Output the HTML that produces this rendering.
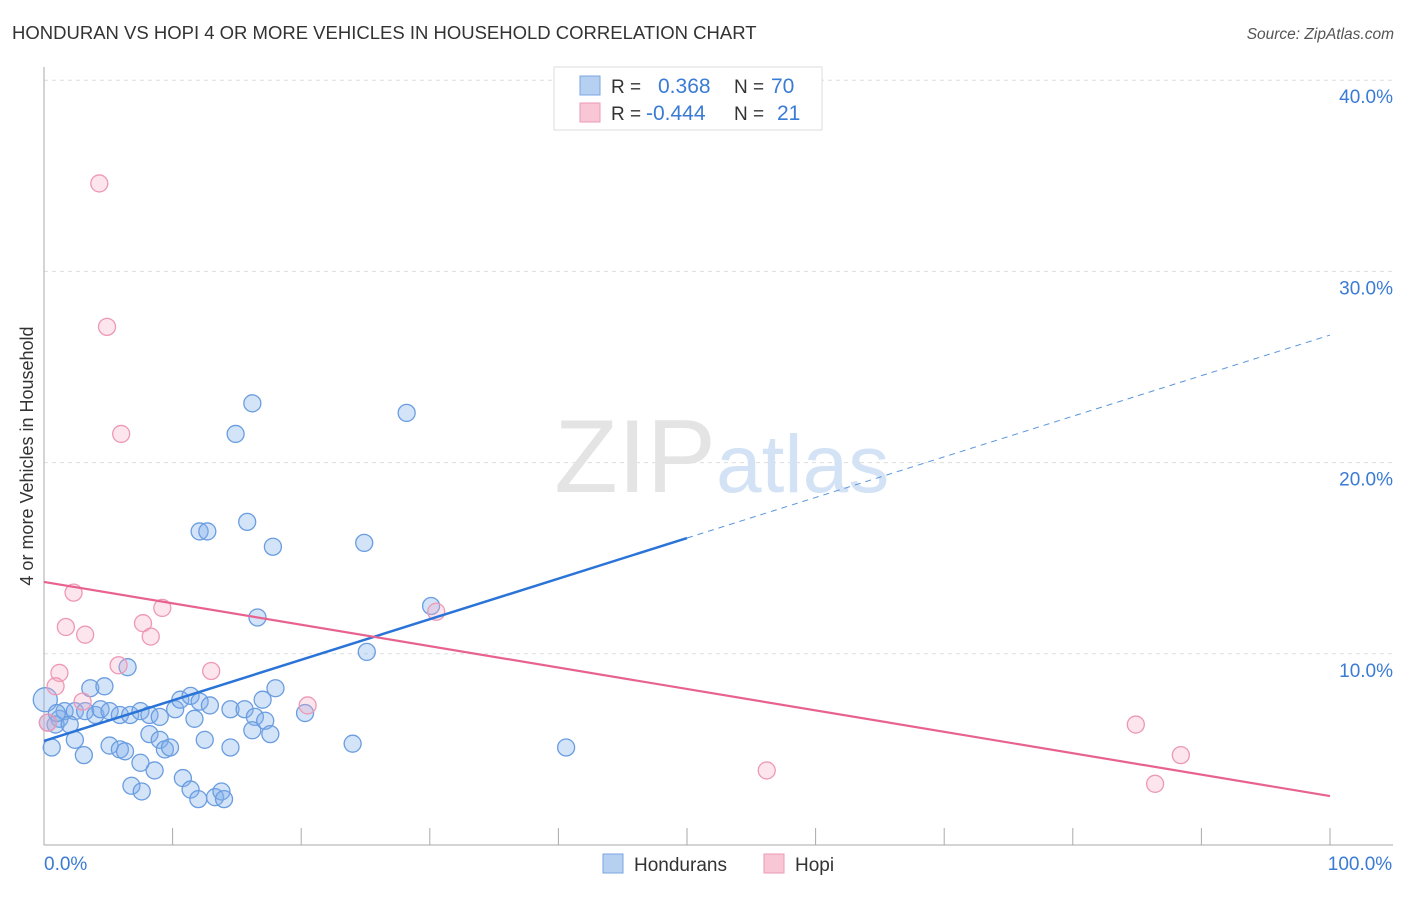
<!DOCTYPE html>
<html><head><meta charset="utf-8"><style>
body{margin:0;background:#fff;font-family:"Liberation Sans",sans-serif}
svg text{font-family:"Liberation Sans",sans-serif}
</style></head><body>
<svg id="c" width="1406" height="892">
<text x="12" y="39" font-size="18.5" fill="#333">HONDURAN VS HOPI 4 OR MORE VEHICLES IN HOUSEHOLD CORRELATION CHART</text>
<text x="1394" y="39" font-size="15.5" fill="#555" text-anchor="end" font-style="italic">Source: ZipAtlas.com</text>
<text x="33" y="456" font-size="18" fill="#333" text-anchor="middle" transform="rotate(-90 33 456)">4 or more Vehicles in Household</text>
<g id="grid"></g>
<text x="716" y="492" font-size="104" fill="#e4e4e4" text-anchor="end" font-family="Liberation Serif">ZIP</text>
<text x="716" y="492" font-size="82" fill="#d3e3f5">atlas</text>
<g id="marks"></g>
<g>
<rect x="554" y="67" width="268" height="63" fill="#fff" stroke="#ddd"/>
<rect x="580" y="76" width="20" height="19" fill="#b6d0f2" stroke="#7aa6e0"/>
<rect x="580" y="103" width="20" height="19" fill="#f8c6d5" stroke="#ec9ab4"/>
<text x="611" y="93" font-size="19" fill="#333">R = </text><text x="658" y="93" font-size="21" fill="#3a7bd5">0.368</text>
<text x="734" y="93" font-size="19" fill="#333">N = </text><text x="771" y="93" font-size="21" fill="#3a7bd5">70</text>
<text x="611" y="120" font-size="19" fill="#333">R = </text><text x="646" y="120" font-size="21" fill="#3a7bd5">-0.444</text>
<text x="734" y="120" font-size="19" fill="#333">N = </text><text x="777" y="120" font-size="21" fill="#3a7bd5">21</text>
</g>
<g>
<rect x="603" y="854" width="20" height="19" fill="#b6d0f2" stroke="#7aa6e0"/>
<text x="634" y="871" font-size="19" fill="#333">Hondurans</text>
<rect x="764" y="854" width="20" height="19" fill="#f8c6d5" stroke="#ec9ab4"/>
<text x="795" y="871" font-size="19" fill="#333">Hopi</text>
</g>
</svg>
<script>
const yTicks=[10,20,30,40];
const yTickLabels=["10.0%","20.0%","30.0%","40.0%"];
const xTickLabels=["0.0%","100.0%"];
const hondX=[0.1,0.6,1.2,0.9,0.3,1.6,2.4,3.2,4.0,4.4,5.1,5.9,6.7,7.5,8.2,9.0,10.2,10.6,11.4,12.1,12.9,14.5,15.6,16.4,17.0,18.0,20.3,3.6,4.7,6.5,3.1,5.1,5.9,6.3,8.2,9.0,9.4,9.8,12.5,14.5,16.2,17.2,17.6,7.5,8.6,6.8,7.6,10.8,11.4,12.0,13.3,13.8,14.0,16.2,28.2,14.9,12.1,12.7,15.8,17.8,24.9,16.6,30.1,25.1,24.0,40.6,2.4,11.7,1.0,2.0];
const hondY=[7.6,5.1,6.6,6.3,6.4,7.0,7.0,7.0,6.8,7.1,7.0,6.8,6.8,7.0,6.8,6.7,7.1,7.6,7.8,7.5,7.3,7.1,7.1,6.7,7.6,8.2,6.9,8.2,8.3,9.3,4.7,5.2,5.0,4.9,5.8,5.5,5.0,5.1,5.5,5.1,6.0,6.5,5.8,4.3,3.9,3.1,2.8,3.5,2.9,2.4,2.5,2.8,2.4,23.1,22.6,21.5,16.4,16.4,16.9,15.6,15.8,11.9,12.5,10.1,5.3,5.1,5.5,6.6,6.9,6.3];
const hopiX=[4.3,4.9,6.0,2.3,9.2,1.7,3.2,7.7,8.3,1.2,5.8,13.0,0.9,3.0,20.5,30.5,56.2,84.9,88.4,86.4,0.3];
const hopiY=[34.6,27.1,21.5,13.2,12.4,11.4,11.0,11.6,10.9,9.0,9.4,9.1,8.3,7.5,7.3,12.2,3.9,6.3,4.7,3.2,6.4];
const hondTrend=[5.44,26.67];
const hopiTrend=[13.76,2.56];
const X0=44,X1=1330,Y0=845,PY=19.12;
const sx=v=>X0+(X1-X0)*v/100, sy=v=>Y0-PY*v;
const NS="http://www.w3.org/2000/svg";
function mk(t,a,p){const e=document.createElementNS(NS,t);for(const k in a)e.setAttribute(k,a[k]);p.appendChild(e);return e;}
const g=document.getElementById('grid'), m=document.getElementById('marks');
yTicks.forEach((t,i)=>{
 const l=mk('line',{x1:44,x2:1393,y1:sy(t),y2:sy(t),stroke:'#ddd','stroke-dasharray':'4,4'},g);
 
 
 const tx=mk('text',{x:1393,y:sy(t)+23,'font-size':19,fill:'#3a7bd5','text-anchor':'end'},g);tx.textContent=yTickLabels[i];
 
 
});
const ax=mk('line',{x1:44,x2:44,y1:67,y2:845,stroke:'#aaa'},g);


const bx=mk('line',{x1:44,x2:1393,y1:845,y2:845,stroke:'#aaa'},g);


for(let i=0;i<=10;i++){const t=mk('line',{x1:sx(i*10),x2:sx(i*10),y1:828,y2:845,stroke:'#aaa'},g);
 
 }
[[0,'start',44],[100,'middle',1360]].forEach((d,i)=>{const t=mk('text',{x:d[2],y:870,'font-size':19,fill:'#3a7bd5','text-anchor':d[1]},g);t.textContent=xTickLabels[i];
 
 });
hondX.forEach((x,i)=>{const c=mk('circle',{cx:sx(x),cy:sy(hondY[i]),r:i==0?12:8.5,fill:'rgba(130,175,235,0.35)',stroke:'#6a9de0','stroke-width':1.3},m);
 
 });
hopiX.forEach((x,i)=>{const c=mk('circle',{cx:sx(x),cy:sy(hopiY[i]),r:8.5,fill:'rgba(245,170,195,0.3)',stroke:'#ee98b4','stroke-width':1.3},m);
 
 });
const ty=x=>hondTrend[0]+(hondTrend[1]-hondTrend[0])*x/100;
const l1=mk('line',{x1:sx(0),y1:sy(ty(0)),x2:sx(50),y2:sy(ty(50)),stroke:'#2a74d8','stroke-width':2.5},m);


const l2=mk('line',{x1:sx(50),y1:sy(ty(50)),x2:sx(100),y2:sy(ty(100)),stroke:'#5a95dd','stroke-width':1,'stroke-dasharray':'6,5'},m);


const l3=mk('line',{x1:sx(0),y1:sy(hopiTrend[0]),x2:sx(100),y2:sy(hopiTrend[1]),stroke:'#e8628f','stroke-width':2.2},m);


</script>
</body></html>
